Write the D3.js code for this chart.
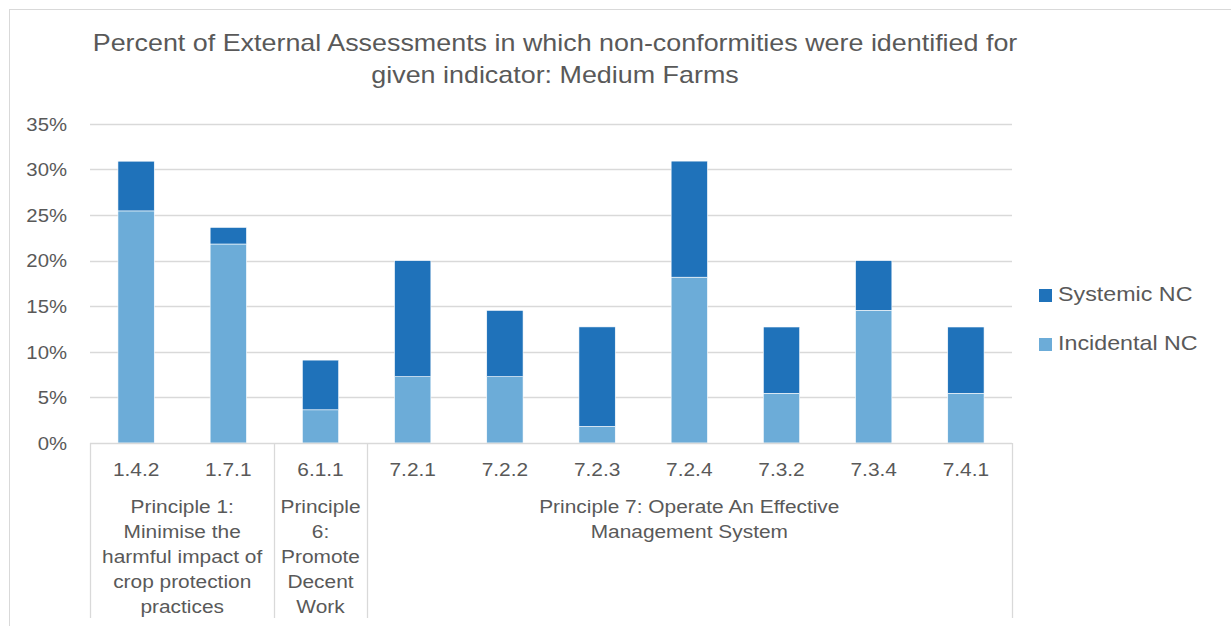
<!DOCTYPE html>
<html>
<head>
<meta charset="utf-8">
<script src="https://cdn.jsdelivr.net/npm/d3@7"></script>
<style>
  html, body { margin: 0; padding: 0; background: #fff; overflow: hidden; }
</style>
</head>
<body>
<div id="chart"></div>
<script>
// indicator codes (first level of the category axis)
const indicators = ["1.4.2", "1.7.1", "6.1.1", "7.2.1", "7.2.2", "7.2.3", "7.2.4", "7.3.2", "7.3.4", "7.4.1"];

// principle groups (second level), with the wrapped lines as shown
const groups = [
  { first: "1.4.2", last: "1.7.1", lines: ["Principle 1:", "Minimise the", "harmful impact of", "crop protection", "practices"] },
  { first: "6.1.1", last: "6.1.1", lines: ["Principle", "6:", "Promote", "Decent", "Work"] },
  { first: "7.2.1", last: "7.4.1", lines: ["Principle 7: Operate An Effective", "Management System"] }
];

// percent values per series
const incidentalNC = [25.45, 21.82, 3.64, 7.27, 7.27, 1.82, 18.18, 5.45, 14.55, 5.45];
const systemicNC = [5.45, 1.82, 5.45, 12.73, 7.27, 10.91, 12.73, 7.27, 5.45, 7.27];

const yTicks = [0, 5, 10, 15, 20, 25, 30, 35];
const titleLines = [
  "Percent of External Assessments in which non-conformities were identified for",
  "given indicator: Medium Farms"
];

function main(container) {
  const width = 1231;
  const height = 626;
  const SX = 1.13; // text in the source is a bit wide
  const font = "'Liberation Sans', Arial, Helvetica, sans-serif";
  const textColor = "#595959";
  const gridColor = "#D9D9D9";
  const sysColor = "#1F72BA";
  const incColor = "#6CACD8";

  const svg = d3.select(container)
    .append("svg")
    .attr("width", width)
    .attr("height", height);

  // chart frame (only left and top edges show)
  svg.append("rect")
    .attr("x", 9.5).attr("y", 9.5)
    .attr("width", 1300).attr("height", 700)
    .attr("fill", "#fff")
    .attr("stroke", gridColor)
    .attr("stroke-width", 1);

  // helper for horizontally stretched text
  function label(parent, x, y, txt, size, anchor) {
    return parent.append("text")
      .attr("transform", `translate(${x},${y}) scale(${SX},1)`)
      .attr("text-anchor", anchor || "middle")
      .attr("font-family", font)
      .attr("font-size", size)
      .attr("fill", textColor)
      .text(txt);
  }

  // title
  titleLines.forEach((t, i) => label(svg, 555, 51 + i * 32, t, "23.8px"));

  const x = d3.scaleBand().domain(indicators).range([90, 1012]).padding(0);
  const y = d3.scaleLinear().domain([0, 35]).range([443, 123.8]);

  // gridlines
  svg.append("g")
    .selectAll("line")
    .data(yTicks.slice(1))
    .join("line")
    .attr("x1", 90).attr("x2", 1012)
    .attr("y1", (d) => Math.round(y(d)) + 0.5)
    .attr("y2", (d) => Math.round(y(d)) + 0.5)
    .attr("stroke", gridColor)
    .attr("stroke-width", 1.3);

  // y tick labels
  yTicks.forEach((t) => label(svg, 67, y(t) + 6.8, t + "%", "18px", "end"));

  // stacked bars
  const rows = indicators.map((k, i) => ({ key: k, inc: incidentalNC[i], sys: systemicNC[i] }));
  const stacked = d3.stack().keys(["inc", "sys"])(rows);
  const colors = { inc: incColor, sys: sysColor };
  const barW = x.bandwidth() * 0.394;

  svg.append("g")
    .selectAll("g")
    .data(stacked)
    .join("g")
    .attr("fill", (s) => colors[s.key])
    .selectAll("rect")
    .data((s) => s)
    .join("rect")
    .attr("x", (d) => x(d.data.key) + (x.bandwidth() - barW) / 2)
    .attr("y", (d) => y(d[1]))
    .attr("width", barW)
    .attr("height", (d) => y(d[0]) - y(d[1]))
    .attr("stroke", "#fff")
    .attr("stroke-width", 0.6);

  // category axis line
  svg.append("line")
    .attr("x1", 90).attr("x2", 1012)
    .attr("y1", 443.5).attr("y2", 443.5)
    .attr("stroke", gridColor)
    .attr("stroke-width", 1.3);

  // group dividers
  const dividers = groups.map((g) => x(g.first)).concat([x(groups[groups.length - 1].last) + x.bandwidth()]);
  svg.append("g")
    .selectAll("line")
    .data(dividers)
    .join("line")
    .attr("x1", (d) => Math.round(d) + 0.5)
    .attr("x2", (d) => Math.round(d) + 0.5)
    .attr("y1", 443).attr("y2", 618)
    .attr("stroke", gridColor)
    .attr("stroke-width", 1.3);

  // indicator labels
  indicators.forEach((k) => label(svg, x(k) + x.bandwidth() / 2, 476, k, "18.5px"));

  // group labels
  groups.forEach((g) => {
    const cx = (x(g.first) + x(g.last) + x.bandwidth()) / 2;
    g.lines.forEach((ln, i) => label(svg, cx, 513 + i * 25, ln, "18.5px"));
  });

  // legend
  const legendItems = [
    { name: "Systemic NC", color: sysColor },
    { name: "Incidental NC", color: incColor }
  ];
  const legend = svg.append("g");
  legendItems.forEach((d, i) => {
    const ly = 289 + i * 49;
    legend.append("rect")
      .attr("x", 1039).attr("y", ly)
      .attr("width", 13).attr("height", 13)
      .attr("fill", d.color);
    label(legend, 1058, ly + 12, d.name, "20.6px", "start");
  });
}

main(document.getElementById("chart"));
</script>
</body>
</html>
